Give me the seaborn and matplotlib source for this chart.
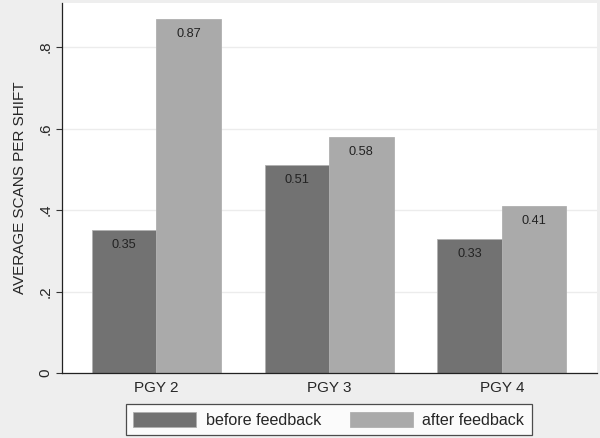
import matplotlib
matplotlib.use("Agg")
import matplotlib.pyplot as plt
import seaborn as sns
import pandas as pd

categories = ["PGY 2", "PGY 3", "PGY 4"]
before = [0.35, 0.51, 0.33]
after = [0.87, 0.58, 0.41]
series_names = ["before feedback", "after feedback"]
yticks = [0, 0.2, 0.4, 0.6, 0.8]
ytick_labels = ["0", ".2", ".4", ".6", ".8"]

df = pd.DataFrame({
    "cat": categories * 2,
    "val": before + after,
    "series": [series_names[0]] * 3 + [series_names[1]] * 3,
})

sns.set_theme(style="white")
plt.rcParams["font.family"] = ["Liberation Sans", "DejaVu Sans"]

fig = plt.figure(figsize=(6, 4.38), dpi=100)
fig.patch.set_facecolor("#eeeeee")
ax = fig.add_axes([0.1033, 0.1484, 0.8917, 0.8446])
ax.set_facecolor("white")

palette = {series_names[0]: "#727272", series_names[1]: "#aaaaaa"}
sns.barplot(data=df, x="cat", y="val", hue="series", palette=palette,
            width=0.746, ax=ax, saturation=1, edgecolor="#b0b0b0", linewidth=0.6)

for cont in ax.containers:
    for bar in cont:
        h = bar.get_height()
        ax.text(bar.get_x() + bar.get_width() / 2, h - 0.022, f"{h:.2f}",
                ha="center", va="top", fontsize=9.2, color="#222222")

ax.set_ylim(0, 0.908)
ax.set_xlim(-0.545, 2.55)
ax.set_yticks(yticks)
ax.set_yticklabels(ytick_labels, rotation=90, va="center", fontsize=11)
ax.yaxis.grid(True, color="#ececec", linewidth=1)
ax.set_axisbelow(True)
ax.tick_params(axis="y", length=4, width=0.8, color="#333333", left=True, pad=3)
ax.tick_params(axis="x", length=0, labelsize=11, pad=6)
ax.set_xlabel("")
ax.set_ylabel("AVERAGE SCANS PER SHIFT", fontsize=11, labelpad=8)
for s in ["top", "right"]:
    ax.spines[s].set_visible(False)
for s in ["left", "bottom"]:
    ax.spines[s].set_color("#222222")
    ax.spines[s].set_linewidth(0.9)

handles, labels = ax.get_legend_handles_labels()
ax.legend_.remove()
leg = fig.legend(handles, labels, loc="center", bbox_to_anchor=(0.548, 0.042), ncol=2,
                 frameon=True, fancybox=False, edgecolor="#222222", fontsize=11.6,
                 handlelength=3.9, handleheight=1.05, columnspacing=1.8, handletextpad=0.6,
                 borderpad=0.45, borderaxespad=0)
leg.get_frame().set_linewidth(0.9)
leg.get_frame().set_facecolor("white")

fig.savefig("out.png", dpi=100, facecolor=fig.get_facecolor())
